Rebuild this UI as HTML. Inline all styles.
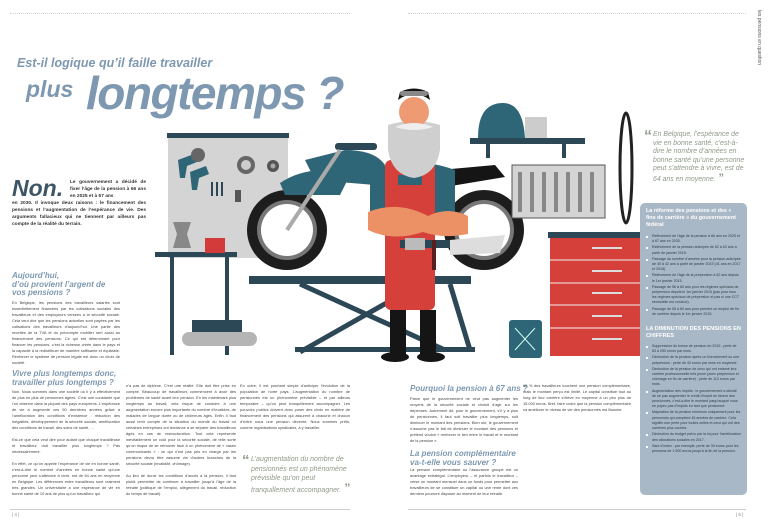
<!DOCTYPE html>
<html><head><meta charset="utf-8">
<style>
*{margin:0;padding:0;box-sizing:border-box}
body{width:777px;height:519px;background:#fff;position:relative;overflow:hidden;font-family:"Liberation Sans",sans-serif;color:#333}
.a{position:absolute}
.t{font-size:3.9px;line-height:6px;text-align:justify;color:#444}
.h{color:#7d98b0;font-style:italic;font-weight:bold;font-size:8px;line-height:8.5px}
.q{color:#8f9a88;font-style:italic;font-size:7.3px;line-height:9.8px}
.dot{border-top:1px dotted #c9d3dc;height:0}
ul{list-style:none}
li{position:relative;padding-left:6px;margin-bottom:1px}
li:before{content:"";position:absolute;left:0;top:2px;width:2px;height:2px;background:#fff}
</style></head><body>
<div class="a dot" style="left:10px;top:13px;width:340px"></div>
<div class="a dot" style="left:408px;top:13px;width:338px"></div>
<div class="a" style="left:752px;top:10px;width:10px;height:80px;writing-mode:vertical-rl;font-size:5px;color:#555">les pensions en question</div>

<div class="a" style="left:17px;top:56px;font-size:12.5px;font-weight:bold;font-style:italic;color:#7d98b0;white-space:nowrap">Est-il logique qu’il faille travailler</div>
<div class="a" style="left:26px;top:76px;font-size:23px;font-weight:bold;font-style:italic;color:#7d98b0">plus</div>
<div class="a" style="left:86px;top:66px;font-size:46px;font-weight:bold;font-style:italic;color:#7d98b0;letter-spacing:-1.5px;white-space:nowrap">longtemps ?</div>

<div class="a" style="left:12px;top:175px;font-size:23px;font-weight:bold;font-style:italic;color:#3e5566">Non.</div>
<div class="a" style="left:70px;top:179px;width:76px;font-size:4.8px;line-height:7px;color:#333;font-weight:bold;text-align:justify">Le gouvernement a décidé de fixer l’âge de la pension à 66 ans en 2025 et à 67 ans</div>
<div class="a" style="left:12px;top:200px;width:134px;font-size:4.8px;line-height:7px;color:#333;font-weight:bold;text-align:justify">en 2030. Il invoque deux raisons : le financement des pensions et l’augmentation de l’espérance de vie. Des arguments fallacieux qui ne tiennent par ailleurs pas compte de la réalité du terrain.</div>

<div class="a h" style="left:12px;top:272px;width:95px">Aujourd’hui,<br>d’où provient l’argent de vos pensions ?</div>
<div class="a t" style="left:12px;top:300px;width:108px">En Belgique, les pensions des travailleurs salariés sont essentiellement financées par les cotisations sociales des travailleurs et des employeurs versées à la sécurité sociale. Cela veut dire que les pensions actuelles sont payées par les cotisations des travailleurs d’aujourd’hui. Une partie des recettes de la TVA et du précompte mobilier sert aussi au financement des pensions. Ce qui est déterminant pour financer les pensions, c’est la richesse créée dans le pays et la capacité à la redistribuer de manière suffisante et équitable. Renforcer le système de pension légale est donc un choix de société.</div>
<div class="a h" style="left:12px;top:370px;width:125px">Vivre plus longtemps donc,<br>travailler plus longtemps ?</div>
<div class="a t" style="left:12px;top:389px;width:108px">Non. Nous sommes dans une société où il y a effectivement de plus en plus de personnes âgées. C’est une constante que l’on observe dans la plupart des pays européens. L’espérance de vie a augmenté ces 50 dernières années grâce à l’amélioration des conditions d’existence : réduction des inégalités, développement de la sécurité sociale, amélioration des conditions de travail, des soins de santé, ...<br><br>Est-ce que cela veut dire pour autant que chaque travailleuse et travailleur doit travailler plus longtemps ? Pas nécessairement.<br><br>En effet, ce qu’on appelle l’espérance de vie en bonne santé, c’est-à-dire le nombre d’années en bonne santé qu’une personne peut s’attendre à vivre, est de 64 ans en moyenne en Belgique. Les différences entre travailleurs sont vraiment très grandes. Un universitaire a une espérance de vie en bonne santé de 10 ans de plus qu’un travailleur qui</div>
<div class="a t" style="left:126px;top:383px;width:110px">n’a pas de diplôme. C’est une réalité. Elle doit être prise en compte. Beaucoup de travailleurs commencent à avoir des problèmes de santé avant leur pension. En les maintenant plus longtemps au travail, cela risque de conduire à une augmentation encore plus importante du nombre d’invalides, de malades de longue durée ou de chômeurs âgés. Enfin, il faut aussi tenir compte de la situation du monde du travail où certaines entreprises ont tendance à se séparer des travailleurs âgés en cas de restructuration. Tout cela représente inévitablement un coût pour la sécurité sociale, de telle sorte qu’on risque de se retrouver face à un phénomène de « vases communicants » : ce qui n’est pas pris en charge par les pensions devra être assumé via d’autres branches de la sécurité sociale (invalidité, chômage).<br><br>Au lieu de durcir les conditions d’accès à la pension, il faut plutôt permettre de continuer à travailler jusqu’à l’âge de la retraite (politique de l’emploi, allègement du travail, réduction du temps de travail).</div>
<div class="a t" style="left:240px;top:383px;width:110px">En outre, il est pourtant simple d’anticiper l’évolution de la population de notre pays. L’augmentation du nombre de pensionnés est un phénomène prévisible – et par ailleurs temporaire – qu’on peut tranquillement accompagner. Les pouvoirs publics doivent donc poser des choix en matière de financement des pensions qui assurent à chacune et chacun d’entre nous une pension décente. Nous sommes prêts, comme organisations syndicales, à y travailler.</div>
<div class="a" style="left:242px;top:452px;font-size:15px;color:#8f9a88;font-weight:bold">“</div>
<div class="a q" style="left:251px;top:455px;width:100px;font-size:7px;line-height:9.5px">L’augmentation du nombre de pensionnés est un phénomène prévisible qu’on peut tranquillement accompagner.<b style="font-size:12px;font-style:normal"> ”</b></div>

<div class="a h" style="left:410px;top:385px;width:130px">Pourquoi la pension à 67 ans ?</div>
<div class="a t" style="left:410px;top:396px;width:108px">Parce que le gouvernement ne veut pas augmenter les moyens de la sécurité sociale et choisit d’agir sur les dépenses. Autrement dit, pour le gouvernement, s’il y a plus de pensionnés, il faut soit travailler plus longtemps, soit diminuer le montant des pensions. Bien sûr, le gouvernement n’assume pas le fait de diminuer le montant des pensions et prétend vouloir « renforcer le lien entre le travail et le montant de la pension ».</div>
<div class="a h" style="left:410px;top:450px;width:120px">La pension complémentaire<br>va-t-elle vous sauver ?</div>
<div class="a t" style="left:410px;top:467px;width:108px">La pension complémentaire ou l’assurance groupe est un avantage extralégal. L’employeur – et parfois le travailleur – verse un montant mensuel dans un fonds pour permettre aux travailleurs de se constituer un capital ou une rente dont ces derniers pourront disposer au moment de leur retraite.</div>
<div class="a t" style="left:523px;top:383px;width:108px">62 % des travailleurs touchent une pension complémentaire, mais le montant perçu est limité. Le capital constitué tout au long de leur carrière s’élève en moyenne à un peu plus de 15.000 euros. Bref, faire croire que la pension complémentaire va améliorer le niveau de vie des pensionnés est illusoire.</div>

<div class="a" style="left:644px;top:128px;font-size:16px;color:#8f9a88;font-weight:bold">“</div>
<div class="a q" style="left:653px;top:131px;width:95px;font-size:6.9px;line-height:8.6px">En Belgique, l’espérance de vie en bonne santé, c’est-à-dire le nombre d’années en bonne santé qu’une personne peut s’attendre à vivre, est de 64 ans en moyenne.<b style="font-size:11px;font-style:normal"> ”</b></div>

<div class="a" style="left:640px;top:203px;width:107px;height:292px;background:#a9b8c6;border-radius:5px;padding:5px 6px;color:#fff">
<div style="font-size:5.4px;line-height:7px;font-weight:bold">La réforme des pensions et des « fins de carrière » du gouvernement fédéral</div>
<ul class="t" style="color:#2e3a44;font-size:3.6px;line-height:5.2px;margin-top:5px;text-align:left">
<li>Relèvement de l’âge de la pension à 66 ans en 2025 et à 67 ans en 2030.</li>
<li>Relèvement de la pension anticipée de 62 à 63 ans à partir de janvier 2018.</li>
<li>Passage du nombre d’années pour la pension anticipée de 40 à 42 ans à partir de janvier 2019 (41 ans en 2017 et 2018).</li>
<li>Relèvement de l’âge de la prépension à 62 ans depuis le 1er janvier 2015.</li>
<li>Passage de 56 à 60 ans pour les régimes spéciaux de prépension depuis le 1er janvier 2015 (pas pour tous les régimes spéciaux de prépension et pas si une CCT sectorielle est conclue).</li>
<li>Passage de 55 à 60 ans pour prendre un emploi de fin de carrière depuis le 1er janvier 2015.</li>
</ul>
<div style="font-size:5.6px;line-height:7px;font-weight:bold;margin-top:9px">LA DIMINUTION DES PENSIONS EN CHIFFRES</div>
<ul class="t" style="color:#2e3a44;font-size:3.6px;line-height:5.2px;margin-top:4px;text-align:left">
<li>Suppression du bonus de pension en 2015 : perte de 83 à 250 euros par mois.</li>
<li>Diminution de la pension après un licenciement ou une prépension : perte de 40 euros par mois en moyenne.</li>
<li>Diminution de la pension de ceux qui ont entamé leur carrière professionnelle très jeune (avec prépension et chômage en fin de carrière) : perte de 113 euros par mois.</li>
<li>Augmentation des impôts : le gouvernement a décidé de ne pas augmenter le crédit d’impôt en faveur des pensionnés, c’est-à-dire le montant jusqu’auquel vous ne payez pas d’impôts en tant que pensionné.</li>
<li>Majoration de la pension minimum uniquement pour les personnes qui comptent 45 années de carrière. Cela signifie une perte pour toutes celles et ceux qui ont des carrières plus courtes.</li>
<li>Diminution du budget prévu par la loi pour l’amélioration des allocations sociales en 2017.</li>
<li>Saut d’index : par exemple, perte de 30 euros pour les pensions de 1 500 euros jusqu’à la fin de la pension.</li>
</ul>
</div>

<div class="a" style="left:10px;top:509px;width:340px;border-top:1px solid #ccc"></div>
<div class="a" style="left:408px;top:509px;width:338px;border-top:1px solid #ccc"></div>
<div class="a" style="left:12px;top:512px;font-size:4.5px;color:#888">| 4 |</div>
<div class="a" style="left:736px;top:512px;font-size:4.5px;color:#888">| 5 |</div>

<svg class="a" style="left:0;top:0" width="777" height="519">
<rect x="168" y="134" width="120" height="124" fill="#d4d4d4"/>
<rect x="167" y="133" width="122" height="5" fill="#2c4756"/>
<path d="M178 160 l16 -6 l3 8 l-10 4 l-2 12 h-5z" fill="#2e6577"/>
<path d="M190 172 l16 -6 l3 8 l-10 4 l-2 12 h-5z" fill="#2e6577"/>
<circle cx="198" cy="155" r="7" fill="#666"/>
<circle cx="246" cy="165" r="9" fill="#666"/><circle cx="246" cy="165" r="5" fill="#ccc"/>
<circle cx="273" cy="166" r="6" fill="#555"/><circle cx="273" cy="166" r="2.5" fill="#aaa"/>
<rect x="211" y="182" width="2" height="14" fill="#2c4756"/><rect x="216" y="182" width="2" height="14" fill="#2c4756"/><rect x="221" y="182" width="2" height="14" fill="#2c4756"/>
<rect x="235" y="190" width="6" height="12" fill="#555"/>
<rect x="155" y="252" width="82" height="5" fill="#2c4756"/>
<rect x="170" y="257" width="4" height="98" fill="#2c4756"/><rect x="225" y="257" width="4" height="98" fill="#2c4756"/>
<path d="M173 222 h18 l-4 12 l4 14 h-18 l4 -14z" fill="#888"/>
<rect x="205" y="238" width="20" height="15" fill="#d33b3b"/>
<rect x="182" y="332" width="75" height="14" rx="7" fill="#b5b5b5"/>
<rect x="192" y="320" width="50" height="12" fill="#2c4756"/>
<circle cx="287" cy="230" r="40" fill="#1d1d1d"/><circle cx="287" cy="230" r="30" fill="#777"/><circle cx="287" cy="230" r="26" fill="#fff"/>
<circle cx="484" cy="230" r="40" fill="#1d1d1d"/><circle cx="484" cy="230" r="30" fill="#777"/><circle cx="484" cy="230" r="26" fill="#fff"/>
<path d="M280 183 q30 -20 70 -8 l-10 20 l-55 0z" fill="#2e6577"/>
<path d="M305 160 l40 -10 q30 0 40 15 l-10 20 l-60 -5z" fill="#2e6577"/>
<rect x="335" y="143" width="42" height="7" rx="3" fill="#2c4756"/>
<path d="M440 170 l55 -5 l10 12 l-60 10z" fill="#151515"/>
<line x1="287" y1="230" x2="340" y2="150" stroke="#aaa" stroke-width="4"/>
<path d="M450 240 l55 -5 l-5 18 l-50 2z" fill="#ddd"/>
<rect x="249" y="276" width="222" height="8" fill="#2c4756"/>
<path d="M300 284 L445 350 M420 284 L300 352 M450 284 L470 350" stroke="#2c4756" stroke-width="5"/>
<rect x="295" y="347" width="180" height="5" fill="#2c4756"/>
<path d="M370 170 q45 -15 85 0 v50 h-85z" fill="#2e6577"/>
<rect x="385" y="160" width="50" height="150" rx="6" fill="#d6403b"/>
<rect x="398" y="175" width="24" height="10" fill="#2e6577"/>
<path d="M368 212 q30 -12 60 4 q20 -10 40 0 v18 q-25 5 -45 -2 q-30 10 -55 -2z" fill="#ec9065"/>
<path d="M388 125 q26 -8 52 0 v25 q-4 25 -26 28 q-22 -3 -26 -28z" fill="#cfcfcf"/>
<ellipse cx="414" cy="112" rx="15" ry="15" fill="#ee9b74"/>
<path d="M398 100 q16 -12 32 0 l-2 -8 q-14 -7 -28 0z" fill="#151515"/>
<rect x="400" y="91" width="28" height="5" rx="2.5" fill="#888"/>
<path d="M395 127 q19 -8 38 0 q-19 6 -38 0z" fill="#eee"/>
<rect x="400" y="240" width="50" height="8" fill="#2c4756"/><rect x="405" y="238" width="20" height="12" fill="#bbb"/>
<rect x="432" y="240" width="4" height="30" fill="#5a2020"/>
<rect x="390" y="310" width="16" height="45" fill="#151515"/><rect x="420" y="310" width="16" height="45" fill="#151515"/>
<ellipse cx="395" cy="357" rx="14" ry="5" fill="#151515"/><ellipse cx="431" cy="357" rx="14" ry="5" fill="#151515"/>
<rect x="470" y="138" width="115" height="6" fill="#2c4756"/>
<rect x="486" y="144" width="4" height="14" fill="#2c4756"/><rect x="562" y="144" width="4" height="14" fill="#2c4756"/>
<path d="M478 138 q0 -35 25 -35 q20 0 22 35z" fill="#2e6577"/>
<rect x="525" y="117" width="22" height="21" fill="#ccc"/>
<rect x="512" y="165" width="93" height="53" fill="#d4d4d4" stroke="#555"/>
<g fill="#888"><rect x="518" y="172" width="4" height="40"/><rect x="530" y="172" width="4" height="40"/><rect x="542" y="172" width="4" height="40"/><rect x="554" y="172" width="4" height="40"/><rect x="566" y="172" width="4" height="40"/><rect x="578" y="172" width="4" height="40"/><rect x="590" y="172" width="4" height="40"/></g>
<ellipse cx="626" cy="168" rx="6" ry="55" fill="none" stroke="#222" stroke-width="3"/>
<rect x="548" y="232" width="92" height="6" fill="#2c4756"/>
<rect x="550" y="238" width="90" height="118" fill="#d6403b"/>
<g stroke="#f2f2f2" stroke-width="1"><line x1="550" y1="260" x2="640" y2="260"/><line x1="550" y1="283" x2="640" y2="283"/><line x1="550" y1="305" x2="640" y2="305"/><line x1="550" y1="328" x2="640" y2="328"/></g>
<g fill="#ddd"><rect x="592" y="247" width="30" height="2"/><rect x="592" y="270" width="30" height="2"/><rect x="592" y="292" width="30" height="2"/><rect x="592" y="315" width="30" height="2"/><rect x="592" y="338" width="30" height="2"/></g>
<rect x="509" y="320" width="33" height="38" rx="3" fill="#2e6577"/>
<path d="M515 328 l20 22 M535 328 l-20 22" stroke="#cfe" stroke-width="1"/>
</svg>
</body></html>
